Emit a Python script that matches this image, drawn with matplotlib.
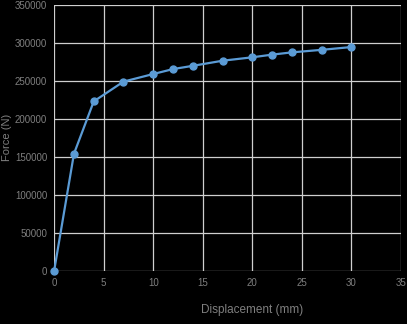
import matplotlib.pyplot as plt

# donnees
displacement = [0, 2, 4, 7, 10, 12, 14, 17, 20, 22, 24, 27, 30]
force = [0, 154000, 223000, 249000, 259000, 265500, 269800, 276500, 281000, 284500, 287500, 290800, 294500]

plt.rcParams['font.family'] = ['Liberation Sans', 'DejaVu Sans']

fig = plt.figure(figsize=(4.07, 3.24), dpi=100, facecolor='black')
ax = fig.add_axes([0.133, 0.164, 0.852, 0.821], facecolor='black')

ax.plot(displacement, force, color='#5b9bd5', linewidth=1.6, marker='o', markersize=5, clip_on=False, zorder=3)

ax.set_xlim(0, 35)
ax.set_ylim(0, 350000)
ax.set_xticks(range(0, 36, 5))
ax.set_yticks(range(0, 350001, 50000))
ax.grid(True, color='#cfcfcf', linewidth=0.9)
for s in ax.spines.values():
    s.set_visible(False)
ax.tick_params(colors='#7f7f7f', labelsize=7, length=0, pad=5)

ax.set_xlabel("Displacement (mm)", color='#7f7f7f', fontsize=8.5)
ax.set_ylabel("Force (N)", color='#7f7f7f', fontsize=8)
ax.xaxis.set_label_coords(0.57, -0.125)
ax.yaxis.set_label_coords(-0.122, 0.5)

plt.savefig("out.png", dpi=100, facecolor='black')
